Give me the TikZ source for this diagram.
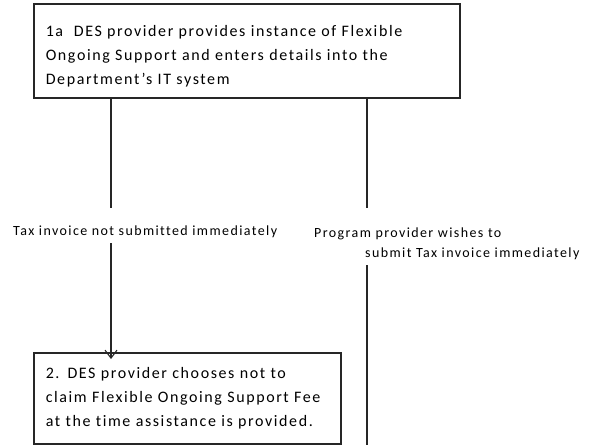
\documentclass[tikz,border=0pt]{standalone}
\usepackage{fontspec}
\setmainfont{Carlito}
\newfontfamily\boxfont[LetterSpace=10,Ligatures=NoCommon]{Carlito}
\newfontfamily\lblfont[LetterSpace=10,Ligatures=NoCommon]{Carlito}
\usetikzlibrary{arrows.meta}
\begin{document}
\begin{tikzpicture}[x=1pt,y=-1pt,
  box/.style={draw=black!85, line width=1.6pt, inner xsep=12pt, inner ysep=0pt, anchor=north west, align=left,
    font=\boxfont\fontsize{16}{24}\selectfont},
  conn/.style={draw=black!85, line width=1.1pt},
  lbl/.style={inner sep=0pt, font=\lblfont\fontsize{14}{20}\selectfont, align=left}]
\useasboundingbox (0,0) rectangle (590,445);
\node[box, minimum width=426pt, minimum height=94pt, text width=402pt] (b1) at (33,3)
  {\rule{0pt}{22pt}1a\ \ DES provider provides instance of Flexible\\
  Ongoing Support and enters details into the\\
  Department’s IT system};
\node[box, minimum width=307pt, minimum height=91pt, text width=283pt] (b2) at (33,352)
  {2. DES provider chooses not to\\
  claim Flexible Ongoing Support Fee\\
  at the time assistance is provided.};
\node[lbl, anchor=west] (l1) at (13,232) {Tax invoice not submitted immediately};
\node[lbl, anchor=north west] (l2) at (314,228) {Program provider wishes to\\\hspace*{51pt}submit Tax invoice immediately};
\coordinate (a1) at (111,208);
\coordinate (a2) at (111,243);
\coordinate (r1) at (367,208);
\coordinate (r2) at (367,265);
\coordinate (r3) at (367,446);
\draw[conn] (b1.south -| a1) -- (a1);
\draw[conn, -{Straight Barb[length=8pt,width=12pt]}] (a2) -- ([yshift=-7pt]b2.north -| a2);
\draw[conn] (b1.south -| r1) -- (r1);
\draw[conn] (r2) -- (r3);
\end{tikzpicture}
\end{document}
